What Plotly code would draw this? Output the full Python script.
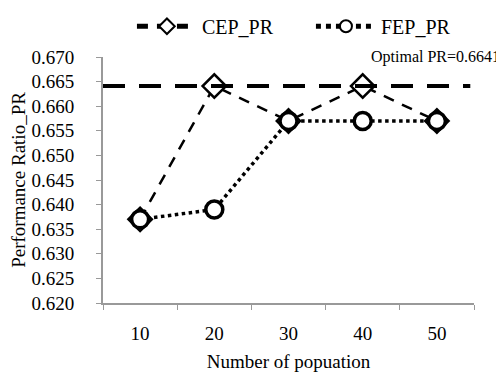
import plotly.graph_objects as go

categories = ["10", "20", "30", "40", "50"]
cep_pr = [0.637, 0.6641, 0.657, 0.6641, 0.657]
fep_pr = [0.637, 0.639, 0.657, 0.657, 0.657]
optimal_pr = 0.6641
y_ticks = [0.620, 0.625, 0.630, 0.635, 0.640, 0.645, 0.650, 0.655, 0.660, 0.665, 0.670]

FONT = "Liberation Serif"

fig = go.Figure()
fig.add_shape(type="line", xref="paper", yref="y", x0=0.0, x1=0.99,
              y0=optimal_pr, y1=optimal_pr,
              line=dict(color="black", width=4, dash="22px,14px"))
fig.add_trace(go.Scatter(
    x=categories, y=cep_pr, name="CEP_PR", mode="lines+markers",
    line=dict(color="black", width=2.5, dash="11px,9px"),
    marker=dict(symbol="diamond", size=18, color="white",
                line=dict(color="black", width=2.5)),
))
fig.add_trace(go.Scatter(
    x=categories, y=fep_pr, name="FEP_PR", mode="lines+markers",
    line=dict(color="black", width=3.5, dash="dot"),
    marker=dict(symbol="circle", size=17, color="white",
                line=dict(color="black", width=3.5)),
))
fig.add_annotation(text="Optimal PR=0.6641", xref="paper", yref="paper",
                   x=1.075, y=1.0, xanchor="right", yanchor="middle",
                   showarrow=False, font=dict(family=FONT, size=16, color="black"))

fig.update_layout(
    width=504, height=378,
    margin=dict(l=95, r=38, t=49, b=83, autoexpand=False),
    paper_bgcolor="white", plot_bgcolor="white",
    font=dict(family=FONT, size=19, color="black"),
    showlegend=True,
    legend=dict(orientation="h", x=0.078, xanchor="left", y=1.125, yanchor="middle",
                font=dict(family=FONT, size=20), itemsizing="constant",
                bgcolor="rgba(0,0,0,0)", itemwidth=60, entrywidth=104),
    xaxis=dict(type="category", tickson="boundaries", ticks="outside", ticklen=5,
               tickcolor="#999999", showline=True, linecolor="#999999", linewidth=2,
               showgrid=False, range=[-0.5, 4.5], ticklabelstandoff=12,
               title=dict(text="Number of popuation", font=dict(family=FONT, size=19), standoff=12),
               tickfont=dict(family=FONT, size=19)),
    yaxis=dict(range=[0.620, 0.670], tickvals=y_ticks, tickformat=".3f",
               ticks="outside", ticklen=5, tickcolor="#999999",
               showline=True, linecolor="#999999", linewidth=2, showgrid=False,
               zeroline=False, ticklabelstandoff=18,
               title=dict(text="Performance Ratio_PR", font=dict(family=FONT, size=19), standoff=2),
               tickfont=dict(family=FONT, size=19)),
)

fig.write_html("out.html")
